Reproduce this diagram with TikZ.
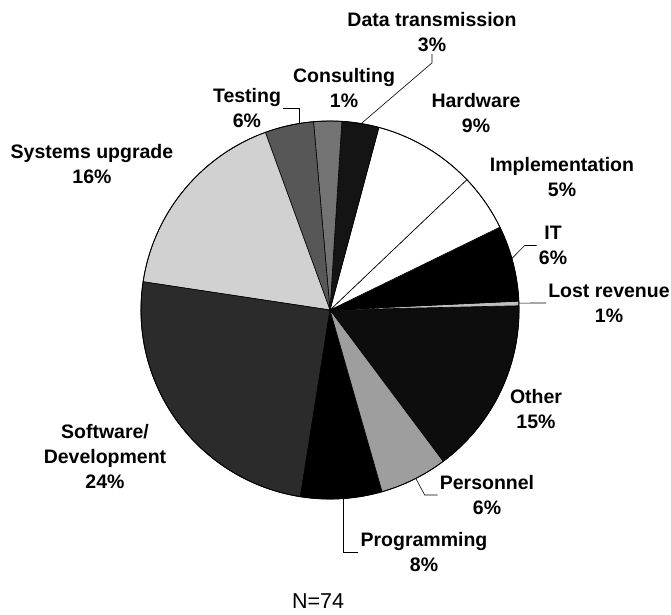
\documentclass[tikz,border=0pt]{standalone}
\usepackage{fontspec}
\setmainfont{Liberation Sans}
\newcommand{\pieR}{189pt}
\tikzset{
  slice/.style={draw=black, line width=0.6pt},
  lbl/.style={font=\fontsize{19.5}{25}\selectfont\bfseries, align=center, inner sep=2pt},
  leader/.style={line width=0.6pt}
}

\begin{document}
\begin{tikzpicture}[x=1pt,y=1pt]
\useasboundingbox (-330,-304) rectangle (341,310);
% slices: start angle / end angle / fill
\foreach \a/\b/\g in {306.8/361.3/black!95, 361.3/362.7/black!25, 2.7/26/black,
    26/43.6/white, 43.6/75/white, 75/86.4/black!92, 86.4/95/black!55,
    95/110/black!66, 110/171.4/black!18, 171.4/261/black!83,
    261/286/black, 286/306.8/black!38}
  \filldraw[slice, fill=\g] (0,0) -- (\a:\pieR) arc (\a:\b:\pieR) -- cycle;
\draw[line width=0.9pt] (0,0) circle (\pieR);

% leader ends on the rim
\coordinate (edata) at (80.5:\pieR);
\coordinate (etest) at (99.5:\pieR);
\coordinate (eit)   at (15.8:\pieR);
\coordinate (elost) at (2.1:\pieR);
\coordinate (epers) at (-63:\pieR);
\coordinate (eprog) at (-86:\pieR);

\node[lbl] (data) at (102,278)   {Data transmission\\3\%};
\node[lbl] (cons) at (14,221.5)  {Consulting\\1\%};
\node[lbl] (test) at (-83,201.5) {Testing\\6\%};
\node[lbl] (hard) at (146,196.5) {Hardware\\9\%};
\node[lbl] (impl) at (232,133)   {Implementation\\5\%};
\node[lbl] (it)   at (223,64.5)  {IT\\6\%};
\node[lbl] (lost) at (279,7)     {Lost revenue\\1\%};
\node[lbl] (oth)  at (206,-99)   {Other\\15\%};
\node[lbl] (pers) at (157,-185)  {Personnel\\6\%};
\node[lbl] (prog) at (94,-242)   {Programming\\8\%};
\node[lbl] (soft) at (-225,-147) {Software/\\Development\\24\%};
\node[lbl] (sys)  at (-238,145.5) {Systems upgrade\\16\%};
\node[font=\fontsize{21.5}{26}\selectfont] (n) at (-12,-291) {N=74};

\draw[leader] (data.south) -- ++(0,-9) -- (edata);
\draw[leader] (test.east) -| (etest);
\draw[leader] (it.west) -- ++(-12,0) -- (eit);
\draw[leader] (lost.west) -- (elost);
\draw[leader] (pers.west) -- ++(-13,0) -- (epers);
\draw[leader] (prog.west) -| (eprog);
\end{tikzpicture}
\end{document}
